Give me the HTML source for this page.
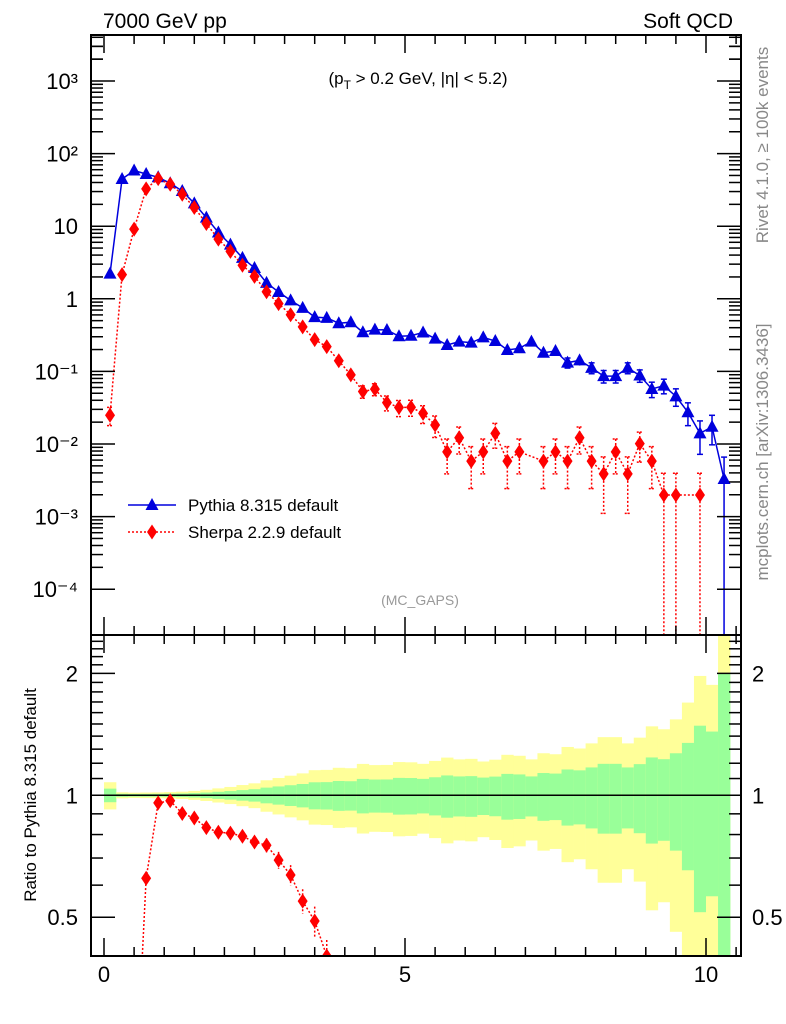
<!DOCTYPE html>
<html><head><meta charset="utf-8"><style>
html,body{margin:0;padding:0;background:#fff;width:786px;height:1024px;overflow:hidden;position:relative}
svg{font-family:"Liberation Sans",sans-serif;display:block;position:absolute;left:0;top:0}
</style></head><body>
<svg id="c" width="786" height="1024" xmlns="http://www.w3.org/2000/svg"></svg>
<script>
const binCenters=[0.1,0.3,0.5,0.7,0.9,1.1,1.3,1.5,1.7,1.9,2.1,2.3,2.5,2.7,2.9,3.1,3.3,3.5,3.7,3.9,4.1,4.3,4.5,4.7,4.9,5.1,5.3,5.5,5.7,5.9,6.1,6.3,6.5,6.7,6.9,7.1,7.3,7.5,7.7,7.9,8.1,8.3,8.5,8.7,8.9,9.1,9.3,9.5,9.7,9.9,10.1,10.3];
const pythia=[2.22,44.7,58.4,52.4,47.2,39,30.5,20.6,13.1,8.18,5.58,3.66,2.66,1.66,1.24,0.95,0.75,0.56,0.546,0.461,0.476,0.346,0.376,0.372,0.305,0.31,0.344,0.283,0.231,0.257,0.249,0.294,0.262,0.197,0.208,0.257,0.181,0.191,0.132,0.142,0.112,0.086,0.086,0.112,0.0878,0.0573,0.0636,0.0453,0.0274,0.014,0.0173,0.0033];
const sherpa=[0.0249,2.15,9.1,32.7,45.2,37.8,27.5,18.1,10.9,6.63,4.5,2.9,2.04,1.25,0.858,0.604,0.411,0.274,0.219,0.14,0.0897,0.0529,0.0569,0.0372,0.0318,0.0321,0.0264,0.0183,0.0078,0.0122,0.00582,0.0078,0.014,0.00582,0.0078,null,0.00582,0.0078,0.00582,0.0122,0.00582,0.00388,0.0078,0.00388,0.0101,0.00582,0.00198,0.00198,null,0.00198,null,null];
const pythiaUnit=0.0033, sherpaUnit=0.00198;
const xTickLabels=["0","5","10"];
const yDecades=[-4,-3,-2,-1,0,1,2,3];
const yDecadeLabels=["10⁻⁴","10⁻³","10⁻²","10⁻¹","1","10","10²","10³"];
const ratioTicks=[0.5,1,2];
const ratioTickLabels=["0.5","1","2"];

const NS="http://www.w3.org/2000/svg";
const svg=document.getElementById('c');
function el(tag,attrs,parent){const e=document.createElementNS(NS,tag);for(const k in attrs)e.setAttribute(k,attrs[k]);(parent||svg).appendChild(e);return e;}
const L=91,R=741,T=35,MB=635,RB=956;
const X=v=>104+v*60.2;
const Y=v=>298.8-Math.log10(v)*72.6;
const RY=v=>795.3-Math.log10(v)*405;
const yMinMain=Math.pow(10,(298.8-MB)/72.6);
const defs=el('defs',{});
const c1=el('clipPath',{id:'cm'},defs);el('rect',{x:L,y:T,width:R-L,height:MB-T},c1);
const c2=el('clipPath',{id:'cr'},defs);el('rect',{x:L,y:MB,width:R-L,height:RB-MB},c2);

const gBand=el('g',{'clip-path':'url(#cr)'});


binCenters.forEach((c,i)=>{
  const rel=Math.sqrt(pythiaUnit/pythia[i]);
  const x0=X(c-0.1),w=X(c+0.1)-x0;
  const yu=RY(1+2*rel),yl=RY(Math.max(1-2*rel,0.01));
  const r1=el('rect',{x:x0,y:yu,width:w+0.3,height:yl-yu,fill:'#ffff99'},gBand);
  
  
  const gu=RY(1+rel),gl=RY(Math.max(1-rel,0.01));
  const r2=el('rect',{x:x0,y:gu,width:w+0.3,height:gl-gu,fill:'#99ff99'},gBand);
  
  
});
el('line',{x1:L,x2:R,y1:RY(1),y2:RY(1),stroke:'#000','stroke-width':1.5,});

function tri(g,x,y,fill){return el('polygon',{points:`${x},${y-7} ${x-6.5},${y+5} ${x+6.5},${y+5}`,fill:fill},g);}
function dia(g,x,y,fill){return el('polygon',{points:`${x},${y-7.5} ${x-5},${y} ${x},${y+7.5} ${x+5},${y}`,fill:fill},g);}

const gP=el('g',{'clip-path':'url(#cm)'});


let pts=binCenters.map((c,i)=>`${X(c)},${Y(pythia[i])}`).join(' ');
el('polyline',{points:pts,fill:'none',stroke:'#0000dd','stroke-width':1.5},gP);
binCenters.forEach((c,i)=>{
  const v=pythia[i],e=Math.sqrt(pythiaUnit*v);
  const x=X(c);const y1=Y(v+e),y2=v-e>yMinMain?Y(v-e):MB+5;
  el('line',{x1:x,x2:x,y1:y1,y2:y2,stroke:'#0000dd','stroke-width':1.5},gP);
  if(y2-y1>10){el('line',{x1:x-3,x2:x+3,y1:y1,y2:y1,stroke:'#0000dd','stroke-width':1.5},gP);if(y2<MB)el('line',{x1:x-3,x2:x+3,y1:y2,y2:y2,stroke:'#0000dd','stroke-width':1.5},gP);}
  const m=tri(gP,x,Y(v),'#0000dd');
  
  
});

const gS=el('g',{'clip-path':'url(#cm)'});


pts=binCenters.map((c,i)=>sherpa[i]==null?null:`${X(c)},${Y(sherpa[i])}`).filter(p=>p).join(' ');
el('polyline',{points:pts,fill:'none',stroke:'#ff0000','stroke-width':1.5,'stroke-dasharray':'2,2'},gS);
binCenters.forEach((c,i)=>{
  const v=sherpa[i];if(v==null)return;
  const e=Math.sqrt(sherpaUnit*v);
  const x=X(c);const y1=Y(v+e),y2=v-e>yMinMain*0.5?Y(v-e):MB+5;
  el('line',{x1:x,x2:x,y1:y1,y2:y2,stroke:'#ff0000','stroke-width':1.5,'stroke-dasharray':'2,2'},gS);
  if(y2-y1>10){el('line',{x1:x-3,x2:x+3,y1:y1,y2:y1,stroke:'#ff0000','stroke-width':1.5,'stroke-dasharray':'2,1'},gS);if(y2<MB)el('line',{x1:x-3,x2:x+3,y1:y2,y2:y2,stroke:'#ff0000','stroke-width':1.5,'stroke-dasharray':'2,1'},gS);}
  const m=dia(gS,x,Y(v),'#ff0000');
  
  
});

const gR=el('g',{'clip-path':'url(#cr)'});


pts=binCenters.map((c,i)=>sherpa[i]==null?null:`${X(c)},${RY(sherpa[i]/pythia[i])}`).filter(p=>p).join(' ');
el('polyline',{points:pts,fill:'none',stroke:'#ff0000','stroke-width':1.5,'stroke-dasharray':'2,2'},gR);
binCenters.forEach((c,i)=>{
  const v=sherpa[i];if(v==null)return;
  const r=v/pythia[i];if(r<0.35||r>3)return;
  const e=Math.sqrt(sherpaUnit*v)/pythia[i];
  const x=X(c);
  el('line',{x1:x,x2:x,y1:RY(r+e),y2:RY(Math.max(r-e,0.01)),stroke:'#ff0000','stroke-width':1.5,'stroke-dasharray':'2,2'},gR);
  const m=dia(gR,x,RY(r),'#ff0000');
  
  
});

el('rect',{x:L,y:T,width:R-L,height:MB-T,fill:'none',stroke:'#000','stroke-width':2,});
el('rect',{x:L,y:MB,width:R-L,height:RB-MB,fill:'none',stroke:'#000','stroke-width':2,});
const ax=el('g',{stroke:'#000','stroke-width':1.5});


for(let k=0;k<=21;k++){const v=k*0.5,x=X(v);if(x>R)break;const major=k%10==0;const len=major?18:9;
  [[T,1],[MB,-1],[MB,1],[RB,-1]].forEach(([y0,d])=>el('line',{x1:x,x2:x,y1:y0,y2:y0+d*len},ax));}
yDecades.forEach(d=>{
  for(let m=1;m<=9;m++){const v=m*Math.pow(10,d),y=Y(v);if(y<T||y>MB)continue;const len=m==1?24:12;
    el('line',{x1:L,x2:L+len,y1:y,y2:y},ax);el('line',{x1:R,x2:R-len,y1:y,y2:y},ax);}
});
[1e4,2e3,3e3].forEach(v=>{const y=Y(v);if(y>T){el('line',{x1:L,x2:L+12,y1:y,y2:y},ax);el('line',{x1:R,x2:R-12,y1:y,y2:y},ax);}});
[0.4,0.5,0.6,0.7,0.8,0.9,1,1.1,1.2,1.3,1.4,1.5,1.6,1.7,1.8,1.9,2,2.1,2.2,2.3,2.4].forEach(v=>{
  const y=RY(v);if(y<MB||y>RB)return;const major=ratioTicks.includes(v);const len=major?24:12;
  el('line',{x1:L,x2:L+len,y1:y,y2:y},ax);el('line',{x1:R,x2:R-len,y1:y,y2:y},ax);});

const tl=el('g',{'font-size':22,fill:'#000'});
yDecades.forEach((d,i)=>{
  const t=el('text',{x:78,y:Y(Math.pow(10,d))+8,'text-anchor':'end'},tl);t.textContent=yDecadeLabels[i];
  });
ratioTicks.forEach((v,i)=>{
  const y=RY(v)+8;
  const t=el('text',{x:78,y:y,'text-anchor':'end'},tl);t.textContent=ratioTickLabels[i];
  
  const t2=el('text',{x:752,y:y,'text-anchor':'start'},tl);t2.textContent=ratioTickLabels[i];
  });
[0,5,10].forEach((v,i)=>{const t=el('text',{x:X(v),y:982,'text-anchor':'middle'},tl);t.textContent=xTickLabels[i];
  });
</script>
<svg width="786" height="1024" xmlns="http://www.w3.org/2000/svg">
<text x="103" y="28" font-size="21" font-family="Liberation Sans">7000 GeV pp</text>
<text x="733" y="28" font-size="21" font-family="Liberation Sans" text-anchor="end">Soft QCD</text>
<text x="418" y="84" font-size="17" font-family="Liberation Sans" text-anchor="middle">(p<tspan font-size="12" dy="5">T</tspan><tspan dy="-5"> &gt; 0.2 GeV, |η| &lt; 5.2)</tspan></text>
<text x="420" y="605" font-size="14" fill="#999" font-family="Liberation Sans" text-anchor="middle">(MC_GAPS)</text>
<text transform="translate(768,145) rotate(-90)" font-size="17" fill="#888" font-family="Liberation Sans" text-anchor="middle">Rivet 4.1.0, ≥ 100k events</text>
<text transform="translate(768,452) rotate(-90)" font-size="17" fill="#888" font-family="Liberation Sans" text-anchor="middle">mcplots.cern.ch [arXiv:1306.3436]</text>
<text transform="translate(36,795) rotate(-90)" font-size="17" font-family="Liberation Sans" text-anchor="middle">Ratio to Pythia 8.315 default</text>
<g>
<line x1="128" x2="176" y1="505" y2="505" stroke="#0000dd" stroke-width="1.5"/>
<polygon points="152,498 145.5,510 158.5,510" fill="#0000dd"/>
<text x="188" y="511" font-size="17" font-family="Liberation Sans">Pythia 8.315 default</text></g>
<g>
<line x1="128" x2="176" y1="532" y2="532" stroke="#ff0000" stroke-width="1.5" stroke-dasharray="2,2"/>
<polygon points="152,524.5 147,532 152,539.5 157,532" fill="#ff0000"/>
<text x="188" y="538" font-size="17" font-family="Liberation Sans">Sherpa 2.2.9 default</text></g>
</svg>
</body></html>
